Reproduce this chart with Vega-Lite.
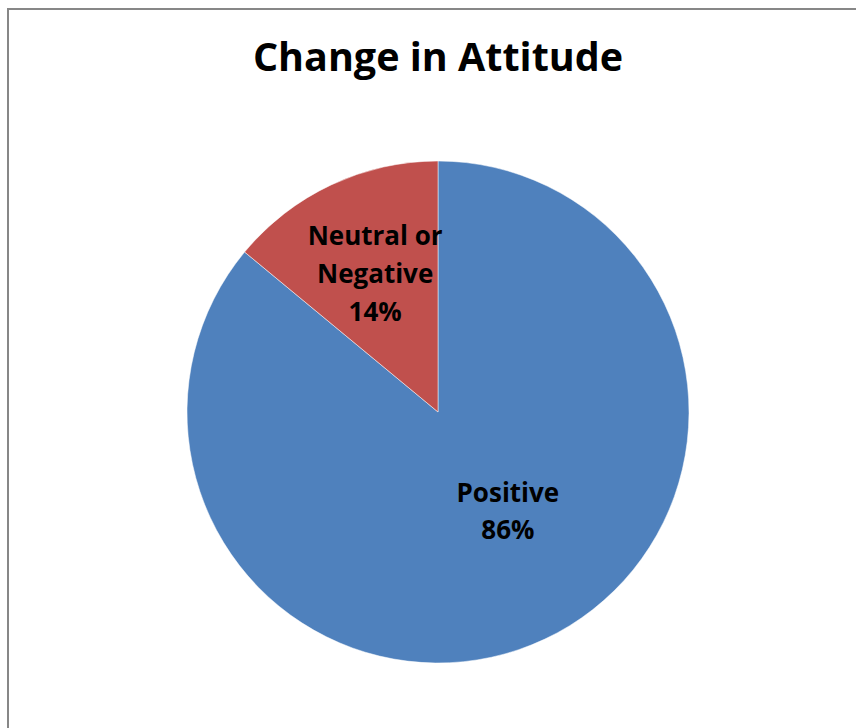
{
  "$schema": "https://vega.github.io/schema/vega-lite/v6.json",
  "width": 860,
  "height": 806,
  "autosize": {"type": "none"},
  "padding": {"left": 8, "top": 9, "right": -12, "bottom": -87},
  "background": "white",
  "view": {"stroke": "#878787", "strokeWidth": 2, "fill": "white"},
  "title": {
    "text": "Change in Attitude",
    "font": "Open Sans",
    "fontSize": 39.5,
    "fontWeight": "bold",
    "color": "black",
    "anchor": "middle",
    "orient": "top",
    "offset": 0,
    "baseline": "alphabetic",
    "dy": 101
  },
  "config": {
    "text": {"font": "Open Sans"}
  },
  "data": {
    "values": [
      {"category": "Positive", "share": 86},
      {"category": "Neutral or Negative", "share": 14}
    ]
  },
  "transform": [
    {"stack": "share", "groupby": [], "sort": [{"field": "share", "order": "descending"}], "as": ["start", "end"]},
    {"calculate": "(datum.start + datum.end) / 2", "as": "mid"},
    {"calculate": "replace(datum.category, ' Negative', '\\nNegative') + '\\n' + datum.share + '%'", "as": "label"}
  ],
  "layer": [
    {
      "mark": {"type": "arc", "radius": 251, "stroke": "#ffffff", "strokeWidth": 0.5},
      "encoding": {
        "theta": {"field": "start", "type": "quantitative", "scale": {"domain": [0, 100]}},
        "theta2": {"field": "end"},
        "color": {
          "field": "category",
          "type": "nominal",
          "scale": {"domain": ["Positive", "Neutral or Negative"], "range": ["#4F81BD", "#C0504D"]},
          "legend": null
        }
      }
    },
    {
      "transform": [{"filter": "datum.category == 'Positive'"}],
      "mark": {"type": "text", "radius": 150, "fontSize": 26, "fontWeight": "bold", "lineBreak": "\n", "lineHeight": 37, "baseline": "middle", "dx": 6, "dy": -54},
      "encoding": {
        "theta": {"field": "mid", "type": "quantitative", "scale": {"domain": [0, 100]}},
        "text": {"field": "label"},
        "color": {"value": "black"}
      }
    },
    {
      "transform": [{"filter": "datum.category != 'Positive'"}],
      "mark": {"type": "text", "radius": 150, "fontSize": 26, "fontWeight": "bold", "lineBreak": "\n", "lineHeight": 38, "baseline": "middle", "dx": 1, "dy": -39},
      "encoding": {
        "theta": {"field": "mid", "type": "quantitative", "scale": {"domain": [0, 100]}},
        "text": {"field": "label"},
        "color": {"value": "black"}
      }
    }
  ]
}
